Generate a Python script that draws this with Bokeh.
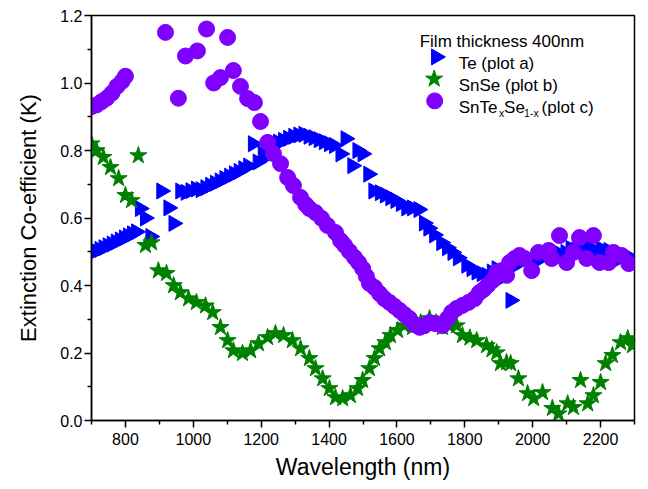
import numpy as np
from bokeh.plotting import figure
from bokeh.models import Range1d, FixedTicker, NumeralTickFormatter, Label
from bokeh.embed import file_html
from bokeh.resources import INLINE

# ---------------- data ----------------
te_wl = [700, 712, 724, 736, 748, 760, 772, 784, 796, 808, 820, 832,
         843, 858, 874, 906, 927, 942, 962, 978, 992, 1008, 1022, 1036, 1050, 1064,
         1078, 1092, 1106, 1120, 1134, 1148, 1162, 1176, 1190, 1205, 1220, 1235, 1250,
         1265, 1280, 1295, 1310, 1325, 1340, 1355, 1370, 1385, 1400, 1415, 1434, 1449,
         1469, 1484, 1499, 1516, 1531, 1550, 1565, 1581, 1596, 1612, 1628, 1645, 1664,
         1680, 1693, 1710, 1731, 1748, 1764, 1780, 1805, 1820, 1835, 1850, 1865, 1880,
         1894, 1905, 1920, 1935, 1950, 1965, 1979, 1995, 2010, 2025, 2038, 2055, 2070,
         2085, 2097, 2112, 2127, 2140, 2156, 2170, 2185, 2200, 2215, 2224, 2240, 2253,
         2268, 2283]
te_k = [0.497, 0.502, 0.507, 0.512, 0.518, 0.523, 0.529, 0.535, 0.541, 0.547, 0.553, 0.559,
        0.628, 0.600, 0.545, 0.680, 0.630, 0.584, 0.680, 0.676, 0.681, 0.686, 0.684, 0.690,
        0.697, 0.703, 0.710, 0.717, 0.724, 0.731, 0.738, 0.746, 0.754, 0.820, 0.766, 0.790,
        0.785, 0.815, 0.825, 0.830, 0.836, 0.842, 0.846, 0.848, 0.842, 0.838, 0.832, 0.826,
        0.820, 0.815, 0.790, 0.835, 0.755, 0.800, 0.790, 0.730, 0.680, 0.675, 0.668, 0.660,
        0.652, 0.643, 0.630, 0.630, 0.625, 0.585, 0.570, 0.550, 0.527, 0.512, 0.498, 0.482,
        0.460, 0.450, 0.440, 0.435, 0.430, 0.440, 0.450, 0.420, 0.430, 0.356, 0.460, 0.470,
        0.480, 0.470, 0.485, 0.480, 0.490, 0.495, 0.500, 0.490, 0.498, 0.510, 0.505, 0.515,
        0.520, 0.510, 0.495, 0.510, 0.500, 0.504, 0.470, 0.480, 0.490, 0.486]

snse_wl = [700, 715, 735, 756, 780, 800, 818, 838, 859, 877, 897, 921, 942, 962, 986,
           1009, 1036, 1057, 1080, 1101, 1118, 1145, 1169, 1192, 1219, 1242, 1266, 1292,
           1316, 1342, 1360, 1381, 1401, 1419, 1440, 1463, 1484, 1499, 1519, 1534, 1549,
           1566, 1581, 1602, 1622, 1646, 1670, 1696, 1715, 1734, 1755, 1776, 1793, 1815,
           1835, 1864, 1880, 1894, 1905, 1923, 1935, 1958, 1985, 2003, 2029, 2058, 2076,
           2103, 2120, 2141, 2162, 2179, 2200, 2215, 2235, 2259, 2280, 2294]
snse_k = [0.820, 0.800, 0.780, 0.750, 0.717, 0.667, 0.652, 0.785, 0.519, 0.527, 0.444,
          0.436, 0.400, 0.379, 0.361, 0.350, 0.340, 0.320, 0.276, 0.237, 0.207, 0.199,
          0.207, 0.228, 0.246, 0.258, 0.252, 0.237, 0.213, 0.184, 0.154, 0.124, 0.095,
          0.068, 0.065, 0.074, 0.095, 0.119, 0.154, 0.184, 0.213, 0.231, 0.252, 0.267,
          0.281, 0.276, 0.290, 0.302, 0.290, 0.276, 0.280, 0.281, 0.252, 0.245, 0.237,
          0.222, 0.210, 0.201, 0.169, 0.172, 0.169, 0.124, 0.080, 0.065, 0.083, 0.036,
          0.020, 0.050, 0.039, 0.119, 0.050, 0.074, 0.113, 0.169, 0.193, 0.231, 0.243, 0.222]

sntese_wl = [700, 715, 730, 745, 760, 775, 790, 800, 918, 956, 977, 1012, 1039, 1060,
             1080, 1101, 1118, 1139, 1160, 1180, 1198, 1219, 1236, 1257, 1278, 1295, 1316,
             1331, 1342, 1360, 1378, 1395, 1419, 1434, 1446, 1460, 1475, 1487, 1499, 1510,
             1519, 1534, 1549, 1563, 1578, 1593, 1608, 1622, 1637, 1652, 1667, 1681, 1696,
             1714, 1734, 1749, 1761, 1776, 1793, 1811, 1829, 1843, 1855, 1867, 1882, 1894,
             1908, 1923, 1932, 1947, 1961, 1976, 1997, 2017, 2047, 2056, 2079, 2100, 2120,
             2138, 2159, 2179, 2197, 2224, 2238, 2262, 2283]
sntese_k = [0.930, 0.935, 0.945, 0.955, 0.970, 0.990, 1.005, 1.020, 1.150, 0.955, 1.080,
            1.095, 1.160, 1.000, 1.016, 1.135, 1.037, 0.990, 0.954, 0.942, 0.886, 0.824,
            0.791, 0.761, 0.720, 0.696, 0.661, 0.640, 0.628, 0.616, 0.599, 0.578, 0.557,
            0.533, 0.519, 0.501, 0.483, 0.468, 0.450, 0.427, 0.406, 0.394, 0.376, 0.361,
            0.350, 0.338, 0.326, 0.314, 0.302, 0.284, 0.276, 0.281, 0.290, 0.287, 0.281,
            0.302, 0.320, 0.332, 0.341, 0.350, 0.361, 0.379, 0.388, 0.400, 0.415, 0.439,
            0.444, 0.430, 0.468, 0.480, 0.489, 0.480, 0.444, 0.498, 0.504, 0.480, 0.548,
            0.468, 0.498, 0.542, 0.480, 0.548, 0.468, 0.468, 0.498, 0.489, 0.465]

x_major = [800, 1000, 1200, 1400, 1600, 1800, 2000, 2200]
x_minor = [700, 900, 1100, 1300, 1500, 1700, 1900, 2100, 2300]
y_major = [0.0, 0.2, 0.4, 0.6, 0.8, 1.0, 1.2]
y_minor = [0.1, 0.3, 0.5, 0.7, 0.9, 1.1]

FONT = "Liberation Sans"
BLUE = "#0000FF"
GREEN = "#008000"
PURPLE = "#8000FF"

p = figure(width=648, height=489, output_backend="svg", toolbar_location=None,
           x_range=Range1d(700, 2300), y_range=Range1d(0, 1.2),
           min_border_left=91, min_border_right=14, min_border_top=15, min_border_bottom=69)
p.xgrid.visible = False
p.ygrid.visible = False
p.outline_line_color = "black"
p.outline_line_width = 1.5
p.background_fill_color = "white"
p.border_fill_color = "white"

for ax in (p.xaxis[0], p.yaxis[0]):
    ax.axis_line_width = 1.5
    ax.axis_line_color = "black"
    ax.major_tick_line_color = "black"
    ax.minor_tick_line_color = "black"
    ax.major_tick_line_width = 1.5
    ax.minor_tick_line_width = 1.5
    ax.major_tick_out = 7
    ax.major_tick_in = 0
    ax.minor_tick_out = 4
    ax.minor_tick_in = 0
    ax.major_label_text_font = FONT
    ax.major_label_text_font_size = "16px"
    ax.major_label_text_color = "black"
    ax.axis_label_text_font = FONT
    ax.axis_label_text_font_style = "normal"
    ax.axis_label_text_color = "black"

p.xaxis.axis_label_text_font_size = "23px"
p.yaxis.axis_label_text_font_size = "22px"
p.xaxis.ticker = FixedTicker(ticks=x_major, minor_ticks=x_minor)
p.yaxis.ticker = FixedTicker(ticks=y_major, minor_ticks=y_minor)
p.yaxis.formatter = NumeralTickFormatter(format="0.0")
p.xaxis.axis_label = "Wavelength (nm)"
p.yaxis.axis_label = "Extinction Co-efficient (K)"
p.xaxis.major_label_standoff = 5
p.yaxis.major_label_standoff = 2
p.xaxis.axis_label_standoff = 6
p.yaxis.axis_label_standoff = 16

p.scatter(te_wl, te_k, marker="triangle", size=16, angle=-np.pi / 2,
          fill_color=BLUE, line_color=BLUE)
p.scatter(snse_wl, snse_k, marker="star", size=18, fill_color=GREEN, line_color=GREEN)
p.scatter(sntese_wl, sntese_k, marker="circle", size=16, fill_color=PURPLE, line_color=PURPLE)

# ---------- helpers: pixel position on the page -> data position ----------
def px_x(px):
    return 700 + (px - 90.5) * 1600 / 543.5

def px_y(py):
    return (420 - py) * 1.2 / 405.5

# ---------- legend (manual) ----------
p.scatter([px_x(435.5)], [px_y(56)], marker="triangle", size=16, angle=-np.pi / 2,
          fill_color=BLUE, line_color=BLUE)
p.scatter([px_x(433.5)], [px_y(78)], marker="star", size=18, fill_color=GREEN, line_color=GREEN)
p.scatter([px_x(434)], [px_y(100)], marker="circle", size=16, fill_color=PURPLE, line_color=PURPLE)

def lab(px, py, text, size="17px"):
    p.add_layout(Label(x=px_x(px), y=px_y(py), text=text, text_font=FONT,
                       text_font_size=size, text_color="black",
                       text_align="left", text_baseline="alphabetic"))

lab(419, 41, "Film thickness 400nm")
lab(458, 63, "Te (plot a)")
lab(458, 85, "SnSe (plot b)")
lab(458, 107, "SnTe")
lab(498.5, 112, "x", "10.5px")
lab(503.5, 107, "Se")
lab(523.5, 112, "1-x", "10.5px")
lab(541, 107, "(plot c)")

open("out.html", "w").write(file_html(p, INLINE))
